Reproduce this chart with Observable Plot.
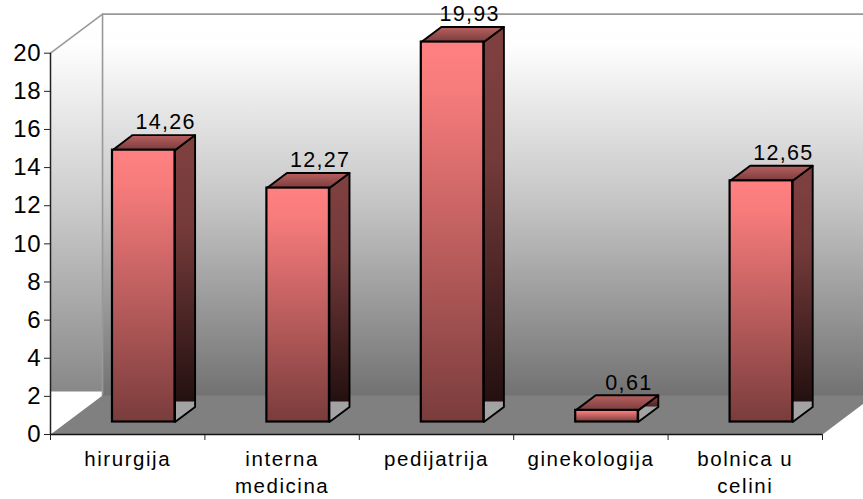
<!DOCTYPE html>
<html><head><meta charset="utf-8">
<script src="https://cdn.jsdelivr.net/npm/d3@7"></script>
<script src="https://cdn.jsdelivr.net/npm/@observablehq/plot@0.6"></script>
<style>
html,body{margin:0;padding:0;background:#fff;overflow:hidden}
svg text{font-family:"Liberation Sans",Arial,sans-serif;fill:#000}
g[aria-label="y-axis tick label"] text{letter-spacing:.8px}
g[aria-label="x-axis tick label"] text{letter-spacing:1.55px}
</style></head><body><div id="chart"></div>
<script>
const categories = ["hirurgija", "interna\nmedicina", "pedijatrija", "ginekologija", "bolnica u\ncelini"];
const values = [14.26, 12.27, 19.93, 0.61, 12.65];
const yTicks = [0, 2, 4, 6, 8, 10, 12, 14, 16, 18, 20];

// Chart-unit sizes of the pseudo-3D box
const barWidth = 0.405, depthX = 0.13, depthY = 0.79;   // bar box
const baseX = 0.104, baseY = 0.655;                      // bar offset on the floor
const wallX = 0.337, wallY = 2.05;                       // wall / floor depth
const sideCut = 1.73;                                    // level where the side shade stops

function polygons(list){
  return list.flatMap((pts, k) => [...pts, pts[0]].map(([x, y]) => ({x, y, k})));
}
const polyMark = (list, o) => Plot.line(polygons(list), {x:"x", y:"y", z:"k", curve:"linear", ...o});

const boxes = values.map((v, i) => {
  const x1 = i + 0.5 - barWidth / 2 + baseX, x2 = x1 + barWidth;
  return {x1, x2, y1: baseY, y2: baseY + v};
});
const labelX = values.map((v, i) => i + 0.5 + baseX + (i === 2 ? 0.11 : 0.142));

const wallBack = [[wallX, wallY], [5.4, wallY], [5.4, 20 + wallY], [wallX, 20 + wallY]];
const wallSide = [[0, 2.25], [wallX, 2.25], [wallX, 20 + wallY], [0, 20]];
const floor = [[0, 0], [wallX, wallY], [5 + wallX, wallY], [5, 0]];

const sideFace = b => [[b.x2, b.y1], [b.x2 + depthX, b.y1 + depthY], [b.x2 + depthX, b.y2 + depthY], [b.x2, b.y2]];
const shadeFace = b => {
  const cut = Math.min(sideCut, b.y2 + 0.2);
  const left = cut > b.y2 ? [[b.x2 + depthX * (cut - b.y2) / depthY, cut]] : [[b.x2, cut]];
  return [...left, [b.x2 + depthX, cut], [b.x2 + depthX, b.y2 + depthY], [b.x2, b.y2]];
};

const defs = () => {
  const ns = "http://www.w3.org/2000/svg";
  const d = document.createElementNS(ns, "defs");
  const grads = {
    gWall: [["0%", "#ffffff"], ["8%", "#fefefe"], ["50%", "#c4c4c4"], ["100%", "#727272"]],
    gSideWall: [["0%", "#ffffff"], ["8%", "#fefefe"], ["50%", "#cccccc"], ["100%", "#888888"]],
    gFront: [["0%", "#ff8080"], ["12%", "#f87c7c"], ["100%", "#7a3c3c"]],
    gSide: [["0%", "#804040"], ["35%", "#743a3a"], ["100%", "#241010"]],
    gTop: [["0%", "#7a3c3c"], ["100%", "#b86060"]]
  };
  for (const [id, stops] of Object.entries(grads)) {
    const g = document.createElementNS(ns, "linearGradient");
    g.setAttribute("id", id);
    g.setAttribute("x1", 0); g.setAttribute("x2", 0);
    g.setAttribute("y1", id === "gTop" ? 1 : 0); g.setAttribute("y2", id === "gTop" ? 0 : 1);
    for (const [o, c] of stops) {
      const s = document.createElementNS(ns, "stop");
      s.setAttribute("offset", o); s.setAttribute("stop-color", c);
      g.appendChild(s);
    }
    d.appendChild(g);
  }
  return d;
};

const plot = Plot.plot({
  width: 863, height: 499,
  marginLeft: 50, marginRight: 41, marginTop: 52.7, marginBottom: 65,
  x: {domain: [0, 5]},
  y: {domain: [0, 20]},
  marks: [
    defs,
    polyMark([wallBack], {fill: "url(#gWall)", stroke: "none"}),
    polyMark([wallSide], {fill: "url(#gSideWall)", stroke: "none"}),
    polyMark([floor], {fill: "#808080", stroke: "none"}),
    Plot.line([[0, 20], [wallX, 20 + wallY], [5.4, 20 + wallY]], {x: "0", y: "1", stroke: "#999999", strokeWidth: 1.6}),
    Plot.line([[wallX, 20 + wallY], [wallX, wallY]], {x: "0", y: "1", stroke: "#999999", strokeWidth: 1.6}),
    Plot.ruleY([wallY], {x1: wallX, x2: 5.4, stroke: "#777777", strokeWidth: 1}),

    // side faces
    polyMark(boxes.map(sideFace), {fill: "#a3a3a3", stroke: "none"}),
    polyMark(boxes.map(shadeFace), {fill: "url(#gSide)", stroke: "none"}),
    polyMark(boxes.map(sideFace), {fill: "none", stroke: "#000", strokeWidth: 1.9}),
    // top faces
    polyMark(boxes.map(b => [[b.x1, b.y2], [b.x1 + depthX, b.y2 + depthY], [b.x2 + depthX, b.y2 + depthY], [b.x2, b.y2]]), {fill: "url(#gTop)", stroke: "#000", strokeWidth: 1.9}),
    // front faces
    Plot.rect(boxes, {x1: "x1", x2: "x2", y1: "y1", y2: "y2", fill: "url(#gFront)", stroke: "#000", strokeWidth: 2.2}),

    Plot.ruleX([0], {y1: 0, y2: 20, stroke: "#222", strokeWidth: 1.5}),
    Plot.ruleY([0], {x1: 0, x2: 5, stroke: "#111", strokeWidth: 1.5}),
    Plot.axisY({ticks: yTicks, tickSize: 6, tickPadding: 3, fontSize: 24, stroke: "#222", label: null, tickFormat: d3.format("d")}),
    Plot.axisX({ticks: [0, 1, 2, 3, 4, 5], tickSize: 6, tickFormat: () => "", label: null, stroke: "#222"}),
    Plot.axisX({ticks: categories.map((c, i) => i + 0.5), tickSize: 0, tickPadding: 13, fontSize: 20.5, label: null,
      tickFormat: t => categories[t - 0.5], lineHeight: 1.3, lineAnchor: "top"}),
    Plot.text(values, {
      x: (v, i) => labelX[i], y: v => v + baseY + 1.45,
      text: v => v.toFixed(2).replace(".", ","),
      fontSize: 21.5, fill: "#000",
      render(index, scales, channels, dimensions, context, next) {
        const g = next(index, scales, channels, dimensions, context);
        g.style.letterSpacing = "1.3px";
        return g;
      }
    })
  ]
});
document.getElementById("chart").appendChild(plot);
</script></body></html>
